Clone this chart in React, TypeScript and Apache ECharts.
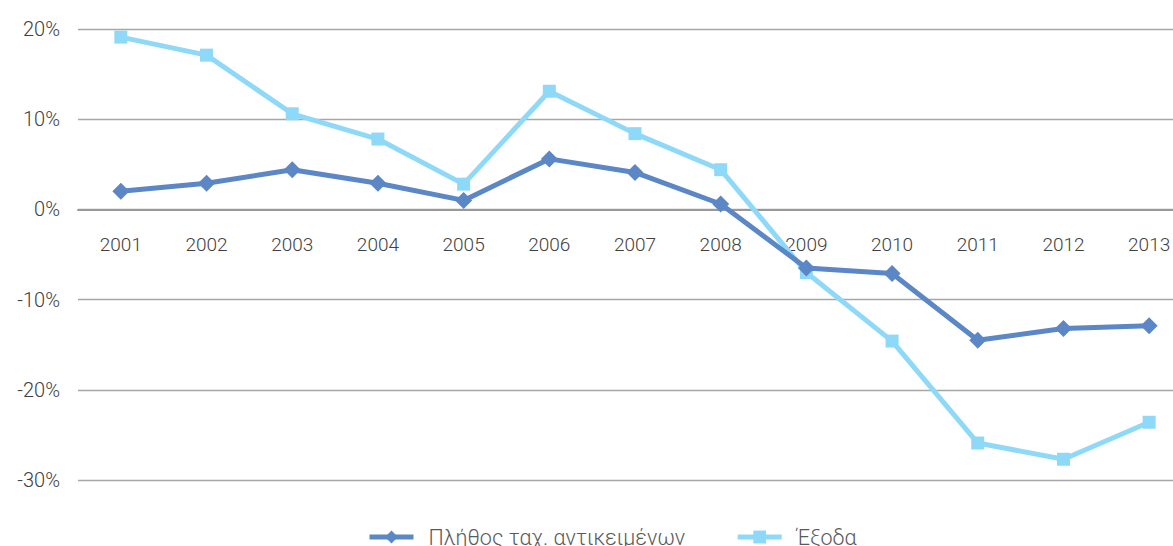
import React, { useEffect, useRef } from "react";
import * as echarts from "echarts";

const years = ["2001","2002","2003","2004","2005","2006","2007","2008","2009","2010","2011","2012","2013"];
const items = [2.0, 2.9, 4.4, 2.9, 1.0, 5.6, 4.1, 0.6, -6.5, -7.1, -14.5, -13.2, -12.9];
const expenses = [19.1, 17.1, 10.6, 7.8, 2.8, 13.1, 8.4, 4.4, -7.0, -14.6, -25.9, -27.7, -23.6];
const seriesNames = ["Πλήθος ταχ. αντικειμένων", "Έξοδα"];
const yMin = -30;
const yMax = 20;

const FONT = "Roboto";
const W = 1173;
const H = 546;
const GRID_TOP = 29;
const GRID_BOTTOM = 66;

export default function App() {
  const ref = useRef<HTMLDivElement>(null);
  useEffect(() => {
    if (!ref.current) return;
    const chart = echarts.init(ref.current, null, { renderer: "svg" });
    const gridH = H - GRID_TOP - GRID_BOTTOM;
    const zeroOffset = -gridH * (0 - yMin) / (yMax - yMin);
    chart.setOption({
      animation: false,
      grid: { left: 78, right: -19, top: GRID_TOP, bottom: GRID_BOTTOM, outerBoundsMode: "none", containLabel: false },
      legend: {
        top: 520,
        left: 362,
        itemWidth: 44,
        itemHeight: 16,
        itemGap: 50,
        lineStyle: { width: 5 },
        textStyle: { fontFamily: FONT, fontWeight: 300, fontSize: 21.5, color: "#595959", padding: [0, 0, 0, 10], lineHeight: 24 },
        data: seriesNames,
      },
      xAxis: {
        type: "category",
        data: years,
        boundaryGap: true,
        offset: zeroOffset,
        axisLine: { onZero: false, lineStyle: { color: "#999999", width: 2 } },
        axisTick: { show: false },
        axisLabel: { margin: 26, fontFamily: FONT, fontWeight: 300, fontSize: 19, color: "#404040" },
        splitLine: { show: false },
      },
      yAxis: {
        type: "value",
        min: yMin,
        max: yMax,
        interval: 10,
        axisLine: { show: false },
        axisTick: { show: false },
        axisLabel: {
          margin: 18,
          fontFamily: FONT,
          fontWeight: 300,
          fontSize: 20,
          color: "#404040",
          formatter: (v: number) => `${v}%`,
        },
        splitLine: { lineStyle: { color: "#a6a6a6", width: 1.3 } },
      },
      series: [
        {
          name: seriesNames[0],
          type: "line",
          data: items,
          symbol: "diamond",
          symbolSize: 17,
          lineStyle: { width: 5, color: "#5B87C6" },
          itemStyle: { color: "#5B87C6" },
          z: 3,
        },
        {
          name: seriesNames[1],
          type: "line",
          data: expenses,
          symbol: "rect",
          symbolSize: 13,
          lineStyle: { width: 5, color: "#8ED9F8" },
          itemStyle: { color: "#8ED9F8" },
          z: 2,
        },
      ],
    });
    return () => chart.dispose();
  }, []);
  return (
    <div
      ref={ref}
      style={{ position: "absolute", left: 0, top: 0, width: W, height: H, background: "#fff", overflow: "hidden" }}
    />
  );
}
